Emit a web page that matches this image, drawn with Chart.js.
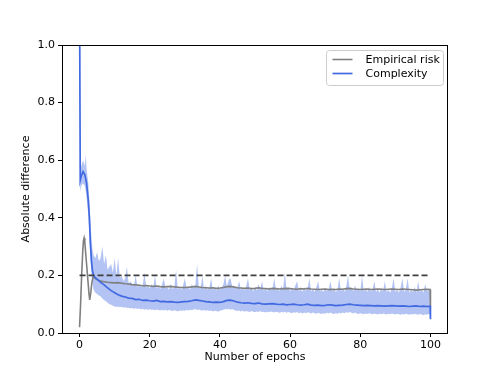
<!DOCTYPE html>
<html><head><meta charset="utf-8">
<script src="https://cdn.jsdelivr.net/npm/chart.js@4.4.1/dist/chart.umd.min.js"></script>
<style>html,body{margin:0;padding:0;background:#fff}canvas{display:block}</style>
</head><body>
<canvas id="c" width="498" height="374" style="width:498px;height:374px"></canvas>
<script>
// ---------- data ----------
const xTicks = [0, 20, 40, 60, 80, 100];
const yTicks = [0, 0.2, 0.4, 0.6, 0.8, 1.0];
const seriesLabels = ['Empirical risk', 'Complexity'];

// shared late epochs (7 .. 99, then the final drop at 100)
const lateEpochs = [7,8,9,10,11,12,13,14,15,16,17,18,19,20,21,22,23,24,25,26,27,28,29,30,31,32,33,34,35,36,37,38,39,40,41,42,43,44,45,46,47,48,49,50,51,52,53,54,55,56,57,58,59,60,61,62,63,64,65,66,67,68,69,70,71,72,73,74,75,76,77,78,79,80,81,82,83,84,85,86,87,88,89,90,91,92,93,94,95,96,97,98,99,99.9,100];

const complexityEarlyEpochs = [0,0.2,0.5,1,1.5,2,2.5,2.8,3.1,3.4,3.7,4,4.5,5,5.5,6];
const complexityEarly = [1.2,0.53,0.545,0.56,0.55,0.52,0.46,0.4,0.31,0.25,0.215,0.2,0.192,0.187,0.182,0.176];
const complexityLate = [0.167,0.157,0.147,0.14,0.133,0.128,0.125,0.121,0.12,0.116,0.117,0.113,0.114,0.112,0.111,0.113,0.109,0.11,0.108,0.109,0.107,0.106,0.108,0.109,0.11,0.112,0.115,0.113,0.111,0.109,0.108,0.106,0.107,0.106,0.109,0.113,0.114,0.111,0.107,0.105,0.104,0.105,0.103,0.102,0.104,0.101,0.1,0.101,0.102,0.1,0.099,0.1,0.098,0.099,0.1,0.098,0.097,0.098,0.1,0.097,0.096,0.097,0.095,0.096,0.098,0.097,0.095,0.096,0.097,0.099,0.1,0.098,0.097,0.096,0.095,0.096,0.095,0.094,0.095,0.094,0.093,0.094,0.095,0.094,0.093,0.094,0.093,0.092,0.093,0.094,0.092,0.093,0.092,0.093,0.048];

const riskEarlyEpochs = [0,0.3,0.6,0.9,1.1,1.3,1.5,1.8,2.1,2.4,2.7,2.9,3.2,3.5,3.9,4.3,4.8,5.5,6];
const riskEarly = [0.02,0.1,0.2,0.28,0.32,0.33,0.315,0.27,0.225,0.18,0.135,0.115,0.14,0.175,0.195,0.192,0.186,0.182,0.18];
const riskLate = [0.178,0.176,0.175,0.174,0.175,0.173,0.171,0.17,0.168,0.167,0.166,0.164,0.165,0.163,0.162,0.163,0.161,0.16,0.161,0.162,0.16,0.159,0.158,0.158,0.159,0.16,0.162,0.16,0.158,0.157,0.156,0.157,0.155,0.156,0.158,0.161,0.162,0.16,0.157,0.156,0.155,0.156,0.154,0.155,0.157,0.155,0.154,0.153,0.155,0.154,0.153,0.154,0.155,0.154,0.153,0.152,0.154,0.153,0.155,0.153,0.152,0.151,0.152,0.153,0.151,0.152,0.151,0.153,0.152,0.154,0.155,0.153,0.152,0.151,0.152,0.153,0.151,0.152,0.153,0.152,0.151,0.152,0.153,0.152,0.151,0.153,0.152,0.151,0.15,0.149,0.15,0.151,0.152,0.151,0.09];

// shaded band around the complexity curve
const bandEpochs = [0,0.2,0.5,1,1.5,1.8,2,2.5,2.8,3.1,3.4,3.7,
4,4.5,5,5.5,6,6.5,7,7.5,8,8.5,9,9.5,10,10.5,11,11.5,12,12.5,13,13.5,14,14.5,15,15.5,16,16.5,17,17.5,18,18.5,19,19.5,20,20.5,21,21.5,22,22.5,23,23.5,24,24.5,25,25.5,26,26.5,27,27.5,28,28.5,29,29.5,30,30.5,31,31.5,32,32.5,33,33.5,34,34.5,35,35.5,36,36.5,37,37.5,38,38.5,39,39.5,40,40.5,41,41.5,42,42.5,43,43.5,44,44.5,45,45.5,46,46.5,47,47.5,48,48.5,49,49.5,50,50.5,51,51.5,52,52.5,53,53.5,54,54.5,55,55.5,56,56.5,57,57.5,58,58.5,59,59.5,60,60.5,61,61.5,62,62.5,63,63.5,64,64.5,65,65.5,66,66.5,67,67.5,68,68.5,69,69.5,70,70.5,71,71.5,72,72.5,73,73.5,74,74.5,75,75.5,76,76.5,77,77.5,78,78.5,79,79.5,80,80.5,81,81.5,82,82.5,83,83.5,84,84.5,85,85.5,86,86.5,87,87.5,88,88.5,89,89.5,90,90.5,91,91.5,92,92.5,93,93.5,94,94.5,95,95.5,96,96.5,97,97.5,98,98.5,99,99.5,100];
const bandHigh = [1.2,0.57,0.58,0.6,0.58,0.62,0.57,0.52,0.46,0.39,0.33,0.29,
0.27,0.26,0.28,0.25,0.26,0.30,0.24,0.27,0.22,0.23,
0.24,0.21,0.26,0.2,0.26,0.19,0.2,0.18,0.19,0.23,
0.17,0.18,0.17,0.165,0.2,0.16,0.17,0.16,0.165,0.21,
0.158,0.165,0.155,0.17,0.158,0.2,0.155,0.162,0.152,0.168,
0.19,0.155,0.16,0.15,0.17,0.153,0.158,0.22,0.152,0.16,
0.15,0.165,0.19,0.155,0.162,0.15,0.17,0.158,0.165,0.24,
0.16,0.155,0.2,0.152,0.165,0.15,0.158,0.19,0.15,0.16,
0.148,0.165,0.152,0.158,0.17,0.2,0.16,0.185,0.19,0.162,
0.165,0.155,0.16,0.18,0.15,0.156,0.148,0.162,0.19,0.15,
0.155,0.145,0.16,0.148,0.17,0.15,0.18,0.147,0.155,0.145,
0.16,0.15,0.155,0.19,0.148,0.158,0.145,0.165,0.15,0.21,
0.152,0.16,0.145,0.155,0.148,0.165,0.18,0.146,0.152,0.143,
0.16,0.147,0.155,0.19,0.145,0.152,0.143,0.16,0.18,0.145,
0.15,0.142,0.158,0.146,0.152,0.18,0.144,0.155,0.142,0.15,
0.19,0.145,0.156,0.143,0.16,0.2,0.15,0.158,0.145,0.165,
0.148,0.155,0.143,0.2,0.146,0.155,0.142,0.16,0.145,0.15,
0.18,0.143,0.152,0.14,0.158,0.145,0.18,0.142,0.15,0.14,
0.155,0.19,0.143,0.15,0.14,0.158,0.19,0.142,0.152,0.19,
0.14,0.15,0.142,0.16,0.14,0.18,0.143,0.152,0.14,0.17,
0.145,0.15,0.14];
const bandLow = [1.1,0.49,0.51,0.52,0.51,0.49,0.47,0.41,0.34,0.26,0.2,0.17,
0.15,0.14,0.135,0.13,0.128,0.12,0.115,0.11,0.105,0.1,
0.098,0.095,0.092,0.09,0.092,0.089,0.091,0.088,0.09,0.087,
0.088,0.085,0.087,0.084,0.086,0.083,0.085,0.082,0.084,0.081,
0.083,0.08,0.083,0.08,0.082,0.079,0.082,0.08,0.078,0.081,
0.078,0.081,0.077,0.08,0.078,0.076,0.079,0.077,0.075,0.078,
0.076,0.079,0.077,0.08,0.078,0.081,0.079,0.082,0.083,0.08,
0.082,0.079,0.078,0.08,0.077,0.079,0.076,0.078,0.075,0.077,
0.076,0.074,0.077,0.079,0.081,0.083,0.082,0.084,0.081,0.083,
0.08,0.078,0.076,0.078,0.075,0.077,0.074,0.076,0.075,0.073,
0.076,0.074,0.072,0.075,0.073,0.076,0.072,0.074,0.071,0.074,
0.072,0.075,0.073,0.071,0.074,0.072,0.07,0.073,0.071,0.074,
0.07,0.073,0.071,0.069,0.072,0.07,0.073,0.069,0.071,0.068,
0.071,0.069,0.072,0.07,0.068,0.071,0.069,0.067,0.07,0.068,
0.066,0.069,0.067,0.07,0.068,0.071,0.068,0.066,0.069,0.067,
0.07,0.068,0.071,0.069,0.072,0.07,0.073,0.07,0.068,0.071,
0.068,0.066,0.069,0.067,0.065,0.068,0.066,0.069,0.067,0.065,
0.068,0.066,0.064,0.067,0.065,0.068,0.066,0.064,0.067,0.065,
0.068,0.066,0.064,0.067,0.065,0.063,0.066,0.064,0.067,0.065,
0.063,0.066,0.064,0.067,0.065,0.063,0.066,0.064,0.062,0.065,
0.063,0.066,0.064];

const thresholdEpochs = [0, 100];
const thresholdValues = [0.2, 0.2];

// ---------- build datasets ----------
const pts = (xs, ys) => xs.map((x, i) => ({x: x, y: ys[i]}));
const complexityEpochs = complexityEarlyEpochs.concat(lateEpochs);
const complexity = complexityEarly.concat(complexityLate);
const riskEpochs = riskEarlyEpochs.concat(lateEpochs);
const empiricalRisk = riskEarly.concat(riskLate);

const FONT = {family: '"DejaVu Sans", sans-serif', size: 11};
const BLUE = '#4169e1';
const GRAY = '#808080';

const framePlugin = {
  id: 'frame',
  afterDatasetsDraw(chart) {
    const a = chart.chartArea, ctx = chart.ctx;
    ctx.save();
    ctx.strokeStyle = '#000';
    ctx.lineWidth = 1;
    ctx.strokeRect(Math.round(a.left) + 0.5, Math.round(a.top) + 0.5,
                   Math.round(a.right - a.left) - 1, Math.round(a.bottom - a.top));
    ctx.restore();
  }
};

const legendPlugin = {
  id: 'boxLegend',
  afterDraw(chart) {
    const ctx = chart.ctx, a = chart.chartArea;
    const items = [chart.data.datasets[2], chart.data.datasets[1]];
    const x0 = a.right - 121.5, y0 = a.top + 5.5, w = 117, h = 35, r = 3;
    ctx.save();
    ctx.beginPath();
    ctx.moveTo(x0 + r, y0);
    ctx.lineTo(x0 + w - r, y0); ctx.quadraticCurveTo(x0 + w, y0, x0 + w, y0 + r);
    ctx.lineTo(x0 + w, y0 + h - r); ctx.quadraticCurveTo(x0 + w, y0 + h, x0 + w - r, y0 + h);
    ctx.lineTo(x0 + r, y0 + h); ctx.quadraticCurveTo(x0, y0 + h, x0, y0 + h - r);
    ctx.lineTo(x0, y0 + r); ctx.quadraticCurveTo(x0, y0, x0 + r, y0);
    ctx.closePath();
    ctx.fillStyle = 'rgba(255,255,255,0.8)';
    ctx.fill();
    ctx.strokeStyle = '#cccccc';
    ctx.lineWidth = 1;
    ctx.stroke();
    ctx.font = '11px "DejaVu Sans", sans-serif';
    ctx.textBaseline = 'middle';
    ctx.textAlign = 'left';
    items.forEach((d, i) => {
      const y = y0 + 9 + i * 14;
      ctx.beginPath();
      ctx.moveTo(x0 + 6, y); ctx.lineTo(x0 + 26, y);
      ctx.strokeStyle = d.borderColor;
      ctx.lineWidth = d.borderWidth;
      ctx.stroke();
      ctx.fillStyle = '#000';
      ctx.fillText(d.label, x0 + 39, y + 0.5);
    });
    ctx.restore();
  }
};

new Chart(document.getElementById('c'), {
  type: 'line',
  data: {
    datasets: [
      {label: 'threshold', data: pts(thresholdEpochs, thresholdValues), borderColor: '#404040',
       borderWidth: 1.6, borderDash: [6, 3], pointRadius: 0, fill: false},
      {label: seriesLabels[1], data: pts(complexityEpochs, complexity), borderColor: BLUE,
       borderWidth: 1.7, pointRadius: 0, fill: false, tension: 0},
      {label: seriesLabels[0], data: pts(riskEpochs, empiricalRisk), borderColor: GRAY,
       borderWidth: 1.6, pointRadius: 0, fill: false, tension: 0},
      {label: 'band high', data: pts(bandEpochs, bandHigh), borderColor: 'rgba(0,0,0,0)',
       borderWidth: 0.5, pointRadius: 0, fill: false},
      {label: 'band low', data: pts(bandEpochs, bandLow), borderColor: 'rgba(0,0,0,0)',
       borderWidth: 0.5, pointRadius: 0, fill: '-1', backgroundColor: 'rgba(65,105,225,0.4)'}
    ]
  },
  options: {
    responsive: false,
    animation: false,
    devicePixelRatio: 1,
    layout: {padding: {left: 0, right: 50, top: 45, bottom: 0}},
    plugins: {legend: {display: false}, tooltip: {enabled: false}},
    scales: {
      x: {
        type: 'linear', min: -5, max: 105,
        afterBuildTicks(s) { s.ticks = xTicks.map(v => ({value: v})); },
        afterFit(s) { s.height = 41; },
        ticks: {color: '#000', font: FONT, padding: 2, maxRotation: 0, autoSkip: false,
                callback: v => String(v)},
        grid: {display: true, drawOnChartArea: false, drawTicks: true, tickLength: 4, color: '#000'},
        border: {display: false},
        title: {display: true, text: 'Number of epochs', color: '#000', font: FONT,
                padding: {top: 0, bottom: 10}}
      },
      y: {
        type: 'linear', min: 0, max: 1,
        afterBuildTicks(s) { s.ticks = yTicks.map(v => ({value: v})); },
        afterFit(s) { s.width = 62; },
        ticks: {color: '#000', font: FONT, padding: 3, callback: v => Number(v).toFixed(1)},
        grid: {display: true, drawOnChartArea: false, drawTicks: true, tickLength: 4, color: '#000'},
        border: {display: false},
        title: {display: true, text: 'Absolute difference', color: '#000', font: FONT,
                padding: {top: 20, bottom: 0}}
      }
    }
  },
  plugins: [framePlugin, legendPlugin]
});
</script>
</body></html>
